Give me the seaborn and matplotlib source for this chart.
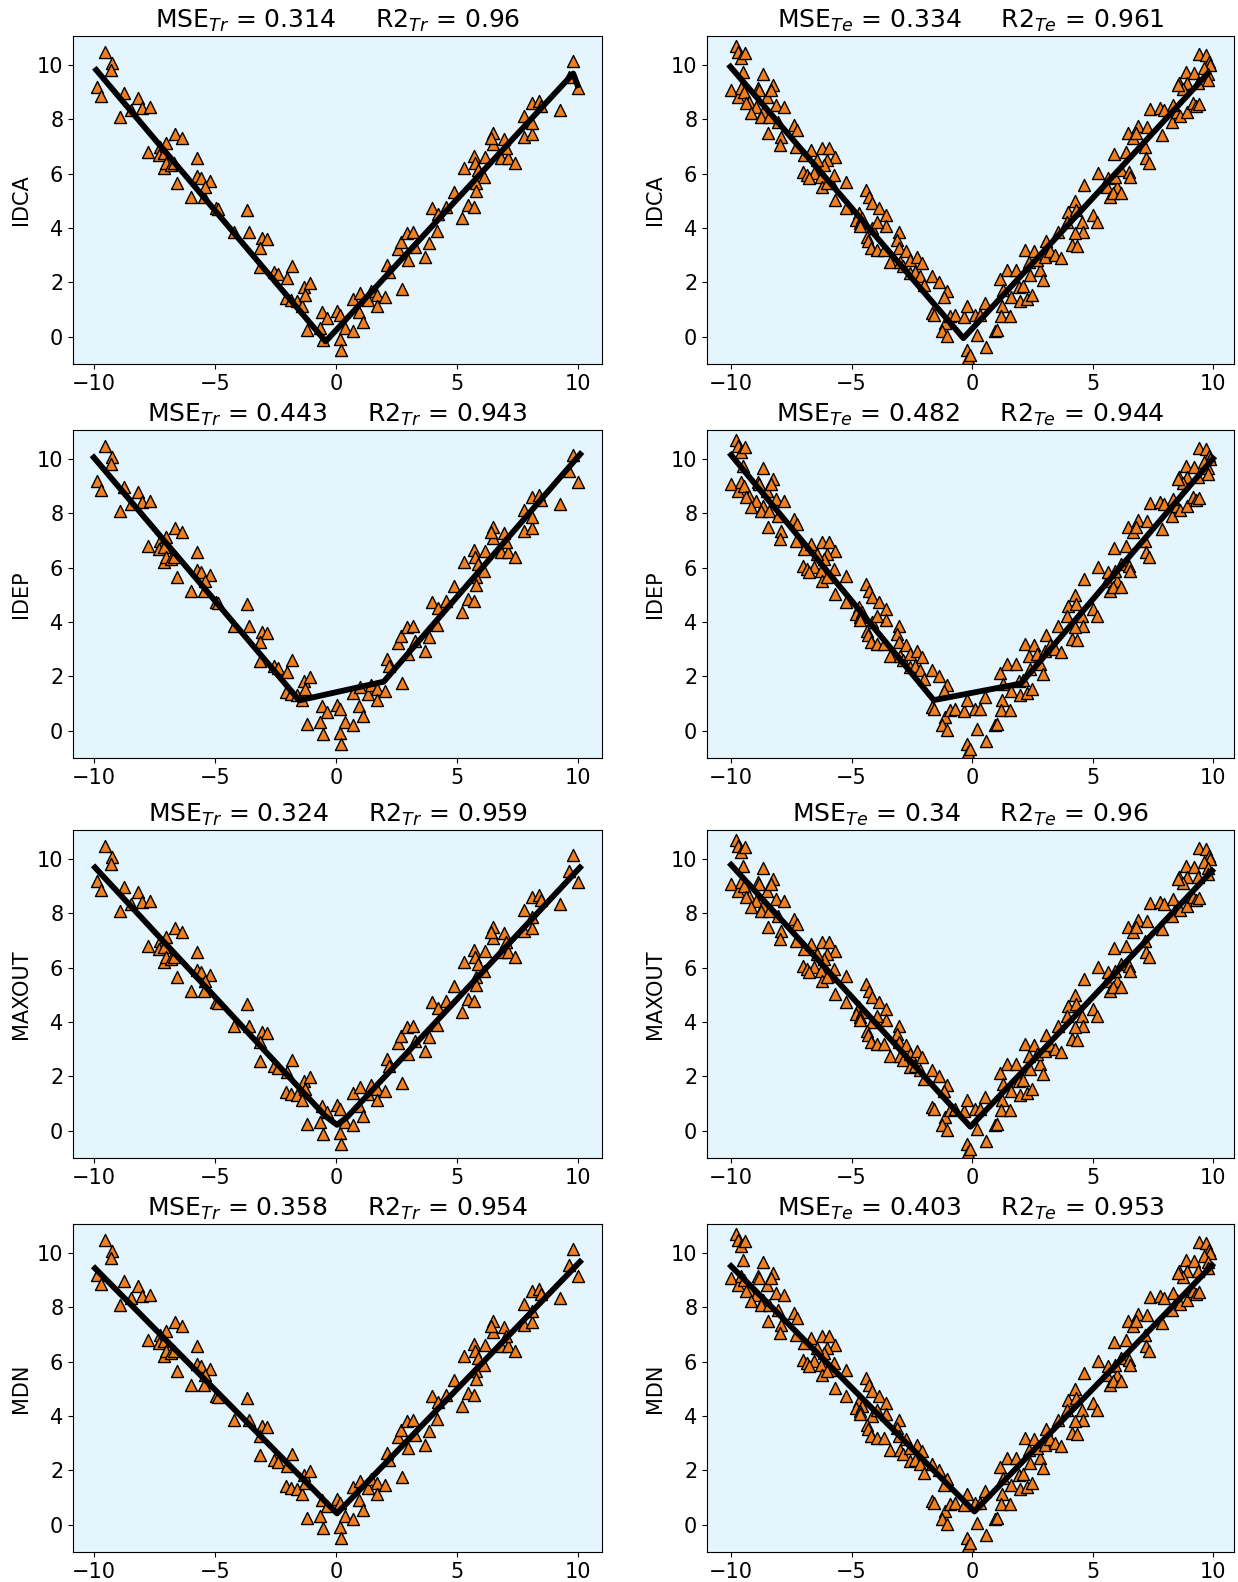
import numpy as np
import pandas as pd
import matplotlib
matplotlib.use("Agg")
import matplotlib.pyplot as plt
import seaborn as sns

# ---------------- data ----------------
models = ["IDCA", "IDEP", "MAXOUT", "MDN"]
mse_tr = [0.314, 0.443, 0.324, 0.358]
r2_tr = [0.96, 0.943, 0.959, 0.954]
mse_te = [0.334, 0.482, 0.34, 0.403]
r2_te = [0.961, 0.944, 0.96, 0.953]

train_points = [
    (-9.52, 10.49), (-9.24, 10.06), (-9.31, 9.82), (-9.86, 9.20), (-9.72, 8.86), (-8.76, 8.98),
    (-8.90, 8.10), (-8.18, 8.80), (-8.48, 8.35), (-8.00, 8.41), (-7.70, 8.44), (-7.77, 6.81),
    (-6.65, 7.45), (-6.35, 7.30), (-7.25, 7.00), (-7.04, 7.12), (-7.31, 6.69), (-7.11, 6.78),
    (-7.11, 6.20), (-7.00, 6.38), (-6.83, 6.32), (-6.67, 6.38), (-6.58, 5.65), (-5.73, 6.57),
    (-5.76, 5.92), (-5.59, 5.83), (-5.21, 5.75), (-5.45, 5.16), (-6.00, 5.16), (-5.39, 5.53),
    (-4.97, 4.73), (-4.88, 4.69), (-3.66, 4.67), (-4.21, 3.84), (-3.60, 3.87), (-3.04, 3.63),
    (-2.87, 3.59), (-3.15, 3.26), (-3.15, 2.56), (-2.56, 2.37), (-2.38, 2.30), (-1.80, 2.62),
    (-2.01, 2.16), (-2.08, 1.42), (-1.87, 1.34), (-1.60, 1.30), (-1.39, 1.12), (-1.32, 1.85),
    (-1.07, 1.97), (-1.28, 1.54), (-1.21, 0.26), (-0.56, 0.93), (-0.39, 0.69), (-0.66, 0.32),
    (-0.52, -0.11), (0.03, 0.96), (0.17, -0.07), (0.20, -0.48),
    (0.17, 0.81), (0.36, 0.32), (0.72, 0.20), (0.68, 1.38), (0.99, 1.61), (0.95, 0.93),
    (1.13, 0.56), (1.32, 1.34), (1.43, 1.70), (1.71, 1.54), (2.03, 1.48), (1.68, 1.14),
    (2.72, 1.75), (2.09, 2.65), (2.19, 2.40), (2.56, 3.22), (2.67, 3.50), (2.92, 3.81),
    (3.16, 3.85), (2.98, 2.83), (3.25, 3.32), (3.67, 2.92), (3.85, 3.47), (4.16, 3.91),
    (3.98, 4.73), (4.22, 4.52), (4.53, 4.77), (4.88, 5.34), (5.22, 4.36), (5.43, 4.85),
    (5.70, 4.79), (5.29, 6.20), (5.68, 6.65), (5.73, 6.38), (5.84, 6.14), (6.09, 5.89),
    (5.77, 5.65), (5.77, 5.38), (6.14, 6.63), (6.50, 7.49), (6.46, 7.10), (6.39, 7.30),
    (6.92, 7.27), (6.81, 6.57), (7.11, 6.57), (7.39, 6.38), (7.01, 6.94), (7.74, 8.13),
    (7.74, 7.34), (8.07, 7.45), (8.07, 7.88), (8.11, 8.59), (8.39, 8.69), (8.48, 8.49),
    (9.26, 8.35), (9.79, 10.16), (9.63, 9.57), (9.97, 9.14),
]

test_points = [
    (-9.79, 10.70), (-9.72, 10.49), (-9.59, 10.25), (-9.41, 10.45), (-9.52, 9.75), (-10.00, 9.08),
    (-9.72, 8.84), (-9.59, 9.14), (-9.45, 9.02), (-8.69, 9.67), (-8.87, 9.14), (-8.83, 9.08),
    (-8.51, 8.84), (-8.28, 9.26), (-8.35, 9.08), (-9.24, 8.65), (-9.38, 8.59), (-8.97, 8.44),
    (-9.17, 8.22), (-8.69, 8.28), (-8.76, 8.10), (-8.42, 8.10), (-8.14, 8.53), (-7.80, 8.44),
    (-8.07, 7.92), (-8.46, 7.49), (-7.93, 7.37), (-7.96, 7.06), (-7.41, 7.79), (-7.27, 7.61),
    (-7.31, 7.00), (-6.97, 6.69), (-6.67, 6.87), (-6.21, 6.94), (-5.94, 6.94), (-5.70, 6.63),
    (-6.00, 6.51), (-6.14, 6.32), (-6.42, 6.51), (-7.00, 6.08), (-6.83, 5.96), (-6.56, 6.02),
    (-6.76, 5.83), (-6.28, 5.89), (-6.21, 5.53), (-5.87, 5.71), (-5.73, 5.96), (-6.00, 5.65),
    (-5.70, 5.04), (-5.25, 5.71), (-5.25, 4.73), (-4.42, 5.40), (-4.28, 5.16), (-4.15, 4.91),
    (-3.87, 4.73), (-3.59, 4.49), (-4.70, 4.55), (-4.83, 4.30), (-4.56, 4.36), (-4.63, 4.18),
    (-4.66, 4.06), (-4.15, 4.00), (-3.59, 4.06), (-3.94, 4.24), (-4.38, 3.69), (-4.32, 3.54),
    (-4.21, 3.26), (-3.94, 3.20), (-3.66, 3.20), (-3.42, 2.77), (-3.04, 3.87), (-3.11, 3.57),
    (-3.04, 3.26), (-2.98, 2.77), (-2.73, 3.14), (-2.86, 2.59), (-2.56, 2.83), (-2.56, 2.34),
    (-2.29, 2.95), (-2.08, 2.71), (-2.36, 2.40), (-2.15, 2.22), (-2.01, 1.91), (-1.67, 2.22),
    (-1.39, 2.03), (-1.05, 1.67), (-1.18, 1.48), (-1.67, 0.87), (-1.60, 0.81), (-1.12, 0.50),
    (-1.25, 0.20), (-1.05, 0.04), (-0.91, 0.75), (-0.70, 0.81),
    (-0.32, 0.72), (-0.21, 1.12), (-0.23, -0.48), (-0.18, -0.78), (-0.07, -0.66), (0.14, 0.81),
    (0.21, 0.07), (0.34, 0.81), (0.55, 1.24), (0.59, -0.36), (0.96, 0.20), (1.03, 0.26),
    (1.17, 2.12), (1.28, 1.73), (1.24, 1.12), (1.20, 0.77), (1.45, 2.46), (1.63, 1.48),
    (1.58, 0.77), (1.83, 2.46), (1.93, 1.85), (2.11, 1.87), (1.97, 1.30), (2.30, 1.38),
    (2.48, 1.54), (2.20, 3.20), (2.55, 3.14), (2.38, 2.77), (2.41, 2.28), (2.80, 2.46),
    (2.96, 2.10), (2.69, 2.83), (3.03, 2.95), (3.07, 3.54), (3.24, 3.14), (3.44, 3.01),
    (3.68, 2.89), (3.58, 3.87), (3.99, 4.61), (4.27, 4.98), (3.93, 4.24), (4.31, 4.67),
    (4.55, 4.24), (4.13, 3.38), (4.34, 3.35), (4.61, 3.87), (4.27, 3.81), (4.64, 5.59),
    (5.00, 4.49), (5.19, 4.24), (5.23, 6.04), (5.58, 5.53), (5.65, 5.83), (5.72, 5.16),
    (6.00, 5.53), (5.92, 5.89), (5.85, 5.29), (6.16, 5.31), (5.88, 6.73), (6.20, 6.14),
    (6.51, 6.08), (6.54, 5.89), (6.38, 6.81), (6.47, 7.49), (6.68, 7.30), (6.89, 7.76),
    (6.82, 7.49), (7.26, 7.71), (7.16, 7.00), (7.23, 6.57), (7.34, 6.38), (7.89, 7.43),
    (7.37, 8.37), (7.78, 8.41), (7.95, 8.35), (8.30, 7.92), (8.50, 8.28), (8.64, 8.13),
    (8.91, 8.28), (9.16, 8.62), (9.30, 8.49), (9.43, 8.56), (8.33, 8.53), (8.58, 9.35),
    (8.88, 9.75), (8.91, 9.33), (8.75, 9.11), (8.54, 9.26), (9.23, 9.72), (9.41, 10.40),
    (9.71, 10.37), (9.82, 10.12), (9.88, 10.00), (9.64, 9.88), (9.37, 9.33), (9.78, 9.69),
    (9.78, 9.45),
]

# fitted model curves (knots of each prediction line)
idca_tr_x = [-9.90, -0.43, 9.79, 9.97]
idca_tr_y = [9.82, -0.17, 9.69, 9.26]
idca_te_x = [-10.03, -0.36, 9.78]
idca_te_y = [9.94, -0.05, 9.69]
idep_tr_x = [-10.00, -1.52, 1.97, 10.08]
idep_tr_y = [10.06, 1.12, 1.81, 10.18]
idep_te_x = [-10.00, -1.59, 2.03, 10.00]
idep_te_y = [10.15, 1.13, 1.74, 10.02]
maxout_tr_x = [-9.95, -0.45, 0.04, 0.45, 10.07]
maxout_tr_y = [9.69, 0.55, 0.22, 0.50, 9.69]
maxout_te_x = [-10.00, -0.07, 9.96]
maxout_te_y = [9.79, 0.15, 9.57]
mdn_tr_x = [-9.95, 0.04, 10.07]
mdn_tr_y = [9.44, 0.42, 9.68]
mdn_te_x = [-10.00, 0.10, 9.96]
mdn_te_y = [9.52, 0.49, 9.55]

curves_tr = [(idca_tr_x, idca_tr_y), (idep_tr_x, idep_tr_y), (maxout_tr_x, maxout_tr_y), (mdn_tr_x, mdn_tr_y)]
curves_te = [(idca_te_x, idca_te_y), (idep_te_x, idep_te_y), (maxout_te_x, maxout_te_y), (mdn_te_x, mdn_te_y)]

train_df = pd.DataFrame(train_points, columns=["x", "y"])
test_df = pd.DataFrame(test_points, columns=["x", "y"])

# ---------------- figure ----------------
W, H = 1238, 1582
fig = plt.figure(figsize=(W / 100, H / 100), dpi=100)
plt.rcParams["font.family"] = ["DejaVu Sans"]

bg = "#e4f5fd"
orange = "#f07f22"
col_x = [73, 707]
col_w = [529, 527]
row_top = [36, 430, 830, 1224]
ax_h = 328
xlims = [(-10.86, 10.98), (-11.0, 10.87)]

for r, name in enumerate(models):
    for c in range(2):
        left = col_x[c] / W
        bottom = (H - row_top[r] - ax_h) / H
        ax = fig.add_axes([left, bottom, col_w[c] / W, ax_h / H])
        ax.set_facecolor(bg)
        df = train_df if c == 0 else test_df
        cx, cy = (curves_tr if c == 0 else curves_te)[r]
        sns.scatterplot(data=df, x="x", y="y", marker="^", s=75, color=orange,
                        edgecolor="black", linewidth=1.0, ax=ax, zorder=2)
        sns.lineplot(x=cx, y=cy, sort=False, estimator=None, color="black",
                     linewidth=4.2, ax=ax, zorder=3)
        ax.set_xlim(*xlims[c])
        ax.set_ylim(-1.0, 11.07)
        ax.set_xticks([-10, -5, 0, 5, 10])
        ax.set_yticks([0, 2, 4, 6, 8, 10])
        ax.tick_params(labelsize=15)
        ax.set_xlabel("")
        ax.set_ylabel(name, fontsize=15)
        if c == 0:
            title = f"MSE$_{{Tr}}$ = {mse_tr[r]}     R2$_{{Tr}}$ = {r2_tr[r]}"
        else:
            title = f"MSE$_{{Te}}$ = {mse_te[r]}     R2$_{{Te}}$ = {r2_te[r]}"
        ax.set_title(title, fontsize=18)

fig.savefig("out.png", dpi=100)
